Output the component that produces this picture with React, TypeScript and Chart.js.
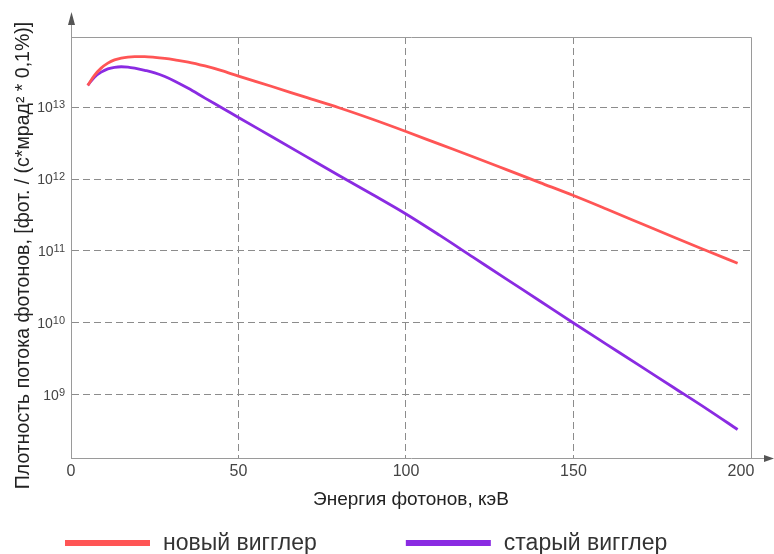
import { useEffect, useRef } from 'react';
import { Chart, registerables } from 'chart.js';

Chart.register(...registerables);

// ---- data ----
const energyKeV = [5, 7, 9, 11, 13, 15, 17, 19, 22, 25, 28, 31, 35, 40, 45, 50, 60, 70, 80, 90, 100, 110, 120, 130, 140, 150, 160, 170, 180, 190, 199];
const newWiggler = [2.0e13, 2.75e13, 3.47e13, 4.07e13, 4.52e13, 4.79e13, 4.95e13, 5.01e13, 5.01e13, 4.9e13, 4.73e13, 4.52e13, 4.22e13, 3.72e13, 3.2e13, 2.69e13, 1.93e13, 1.37e13, 9.77e12, 6.76e12, 4.57e12, 3.05e12, 2.04e12, 1.35e12, 8.91e11, 5.89e11, 3.8e11, 2.43e11, 1.55e11, 1.0e11, 6.76e10];
const oldWiggler = [2.0e13, 2.6e13, 3.05e13, 3.39e13, 3.57e13, 3.63e13, 3.59e13, 3.47e13, 3.24e13, 2.99e13, 2.66e13, 2.29e13, 1.82e13, 1.33e13, 9.77e12, 7.16e12, 3.86e12, 2.08e12, 1.12e12, 6.1e11, 3.27e11, 1.66e11, 8.22e10, 4.07e10, 2.02e10, 1.0e10, 5.01e9, 2.51e9, 1.26e9, 6.31e8, 3.31e8];
const seriesNames = ['новый вигглер', 'старый вигглер'];
const seriesColors = ['#ff5555', '#8a2be2'];
const xMin = 0;
const xMax = 203;
const xTickValues = [0, 50, 100, 150, 200];
const yMin = 1.33e8;
const yMax = 9.4e13;
const yTickValues = [1e9, 1e10, 1e11, 1e12, 1e13];
const yTickBase = '10';
const yTickExponents = ['9', '10', '11', '12', '13'];
const xTitle = 'Энергия фотонов, кэВ';
const yTitle = 'Плотность потока фотонов, [фот. / (с*мрад² * 0,1%)]';

const FONT = '"Liberation Sans", Arial, sans-serif';
const AXIS_COLOR = '#9a9a9a';
const GRID_COLOR = '#8c8c8c';
const TICK_COLOR = '#444';
const TEXT_COLOR = '#222';

const frameAndArrows = {
  id: 'frameAndArrows',
  afterDraw(chart: any) {
    const { ctx, chartArea } = chart;
    const l = Math.round(chartArea.left) + 0.5;
    const r = Math.round(chartArea.right) + 0.5;
    const t = Math.round(chartArea.top) + 0.5;
    const b = Math.round(chartArea.bottom) + 0.5;
    ctx.save();
    ctx.strokeStyle = AXIS_COLOR;
    ctx.lineWidth = 1;
    ctx.setLineDash([]);
    ctx.beginPath();
    ctx.moveTo(l, t);
    ctx.lineTo(r, t);
    ctx.lineTo(r, b);
    ctx.moveTo(l, t);
    ctx.lineTo(l, 20);
    ctx.moveTo(r, b);
    ctx.lineTo(chart.width - 6, b);
    ctx.stroke();
    ctx.fillStyle = '#555';
    ctx.beginPath();
    ctx.moveTo(l, 12);
    ctx.lineTo(l - 3.5, 25);
    ctx.lineTo(l + 3.5, 25);
    ctx.closePath();
    ctx.fill();
    ctx.beginPath();
    ctx.moveTo(chart.width, b);
    ctx.lineTo(chart.width - 10, b - 3.5);
    ctx.lineTo(chart.width - 10, b + 3.5);
    ctx.closePath();
    ctx.fill();
    ctx.restore();
  },
};

// y tick labels "10" with a raised exponent, placed through the y scale
const powerTickLabels = {
  id: 'powerTickLabels',
  afterDraw(chart: any) {
    const { ctx } = chart;
    const scale = chart.scales.y;
    const right = Math.round(chart.chartArea.left) - 6;
    ctx.save();
    ctx.fillStyle = TICK_COLOR;
    ctx.textBaseline = 'alphabetic';
    ctx.textAlign = 'left';
    yTickValues.forEach((v, i) => {
      const py = scale.getPixelForValue(v);
      ctx.font = `11px ${FONT}`;
      const ew = ctx.measureText(yTickExponents[i]).width;
      ctx.font = `14px ${FONT}`;
      const bw = ctx.measureText(yTickBase).width;
      const x0 = right - ew - bw;
      ctx.fillText(yTickBase, x0, py + 5);
      ctx.font = `11px ${FONT}`;
      ctx.fillText(yTickExponents[i], x0 + bw, py + 1);
    });
    ctx.restore();
  },
};

// vertical axis title, centred a little below the plot middle as in the reference
const yAxisTitle = {
  id: 'yAxisTitle',
  afterDraw(chart: any) {
    const { ctx, chartArea } = chart;
    ctx.save();
    ctx.translate(23.4, (chartArea.top + chartArea.bottom) / 2 + 8);
    ctx.rotate(-Math.PI / 2);
    ctx.font = `19.5px ${FONT}`;
    ctx.fillStyle = TEXT_COLOR;
    ctx.textAlign = 'center';
    ctx.textBaseline = 'middle';
    ctx.fillText(yTitle, 0, 0);
    ctx.restore();
  },
};

const bottomLegend = {
  id: 'bottomLegend',
  afterDraw(chart: any) {
    const { ctx } = chart;
    ctx.save();
    ctx.font = `23px ${FONT}`;
    ctx.textBaseline = 'alphabetic';
    ctx.textAlign = 'left';
    let x = 65;
    const y = 543;
    chart.data.datasets.forEach((ds: any) => {
      ctx.fillStyle = ds.borderColor;
      ctx.fillRect(x, y - 3, 85, 6);
      x += 85 + 13;
      ctx.fillStyle = '#333';
      ctx.fillText(ds.label, x, y + 7);
      x += ctx.measureText(ds.label).width + 89;
    });
    ctx.restore();
  },
};

export default function App() {
  const ref = useRef<HTMLCanvasElement>(null);

  useEffect(() => {
    if (!ref.current) return;
    const series = [newWiggler, oldWiggler];
    const chart = new Chart(ref.current, {
      type: 'line',
      data: {
        datasets: series.map((vals, i) => ({
          label: seriesNames[i],
          data: energyKeV.map((e, j) => ({ x: e, y: vals[j] })),
          borderColor: seriesColors[i],
          backgroundColor: seriesColors[i],
          borderWidth: 2.8,
          pointRadius: 0,
          cubicInterpolationMode: 'monotone' as const,
          fill: false,
        })),
      },
      options: {
        responsive: false,
        animation: false,
        layout: { padding: { left: 0, top: 37, right: 23, bottom: 0 } },
        plugins: {
          legend: { display: false },
          tooltip: { enabled: false },
        },
        scales: {
          x: {
            type: 'linear',
            min: xMin,
            max: xMax,
            afterFit: (s: any) => { s.height = 96; },
            afterBuildTicks: (s: any) => { s.ticks = xTickValues.map((v) => ({ value: v })); },
            ticks: {
              padding: 4,
              color: TICK_COLOR,
              font: { family: FONT, size: 16 },
            },
            grid: {
              drawTicks: false,
              color: (c: any) => (c.tick && (c.tick.value === 0 || c.tick.value === 200) ? 'rgba(0,0,0,0)' : GRID_COLOR),
            },
            border: { color: AXIS_COLOR, dash: [7, 4] },
            title: {
              display: true,
              text: xTitle,
              color: TEXT_COLOR,
              font: { family: FONT, size: 19 },
              padding: { top: 0, bottom: 43 },
            },
          },
          y: {
            type: 'logarithmic',
            min: yMin,
            max: yMax,
            afterFit: (s: any) => { s.width = 71; },
            afterBuildTicks: (s: any) => { s.ticks = yTickValues.map((v) => ({ value: v })); },
            ticks: {
              padding: 6,
              callback: () => '',
            },
            grid: { drawTicks: false, color: GRID_COLOR },
            border: { color: AXIS_COLOR, dash: [7, 4] },
            title: { display: false },
          },
        },
      },
      plugins: [frameAndArrows, powerTickLabels, yAxisTitle, bottomLegend],
    });
    return () => chart.destroy();
  }, []);

  return (
    <div style={{ position: 'fixed', left: 0, top: 0, width: 774, height: 554, background: '#fff' }}>
      <canvas ref={ref} width={774} height={554} style={{ display: 'block' }} />
    </div>
  );
}
